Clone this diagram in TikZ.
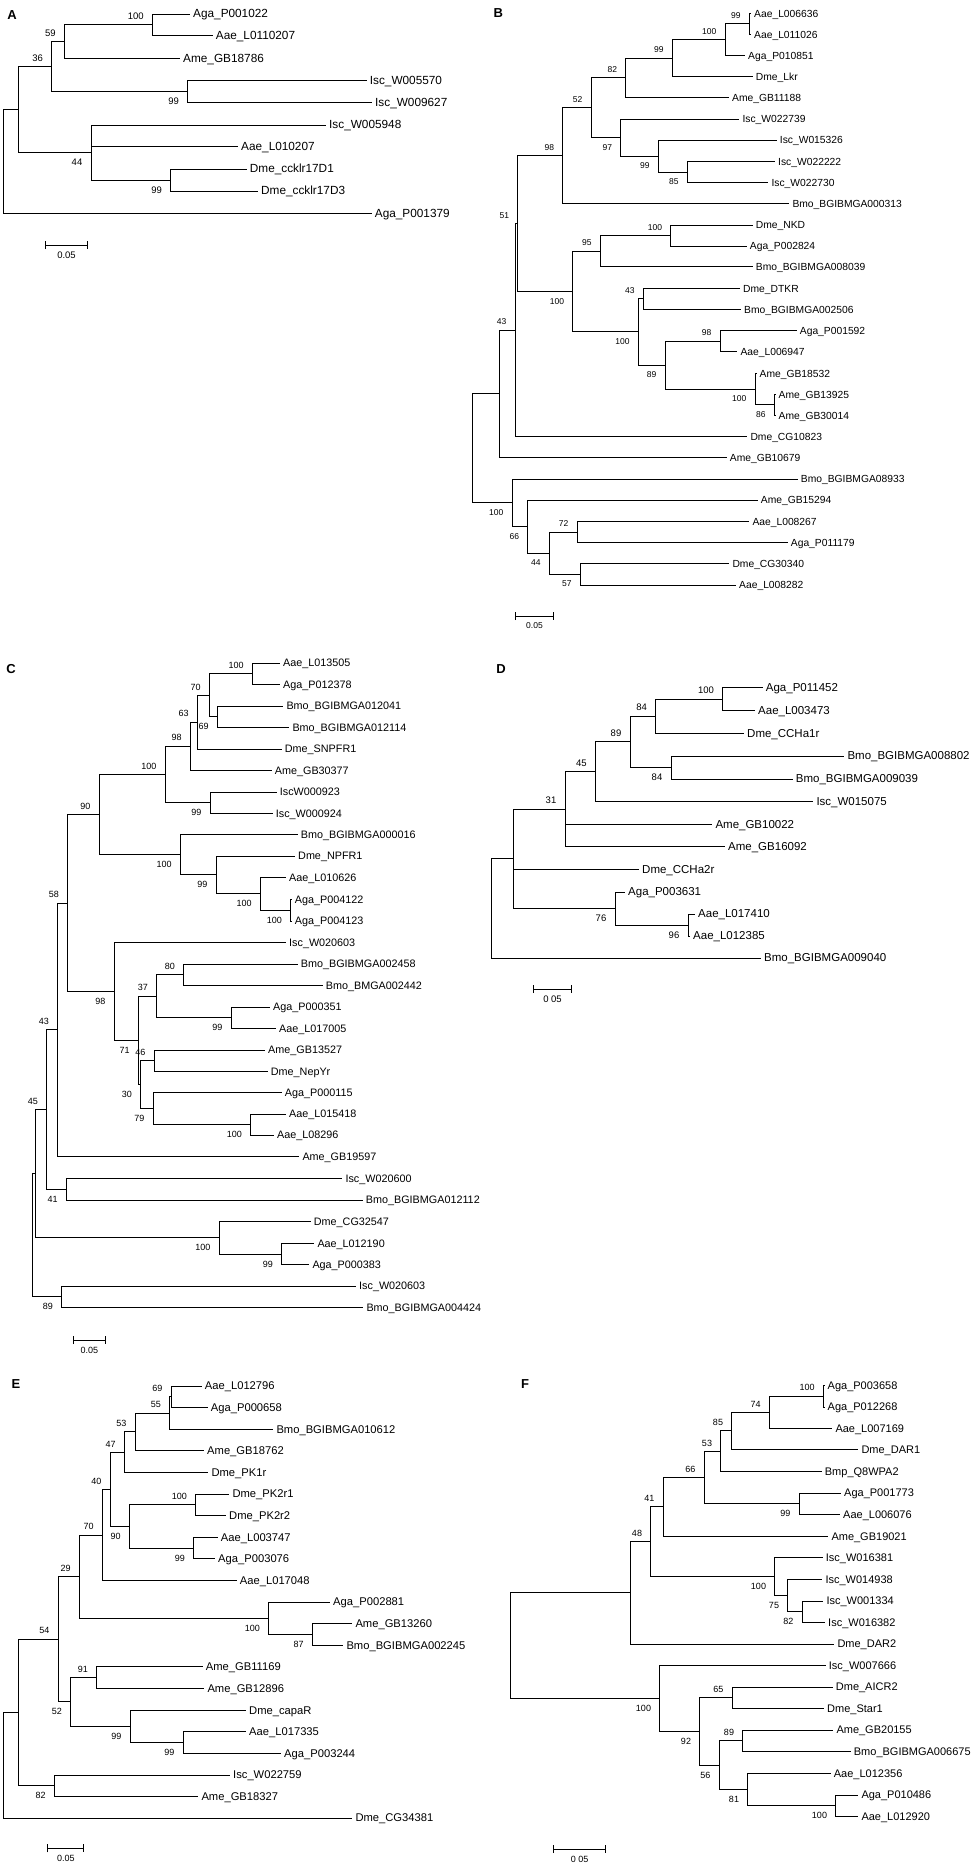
\documentclass[tikz,border=0pt]{standalone}
\usepackage{fontspec}
\setmainfont{Liberation Sans}
\usetikzlibrary{arrows.meta}
\tikzset{
  br/.style={line width=1pt},
  lf/.style={font=\fontsize{11}{13}\selectfont},
  bf/.style={font=\fontsize{9}{11}\selectfont},
  leaf/.style={lf, anchor=west, inner xsep=3pt, inner ysep=0pt, text height=7.6pt, text depth=0pt},
  bsup/.style={bf, anchor=south east, inner sep=0pt, xshift=-8.5pt, yshift=5pt},
  bsdn/.style={bf, anchor=north east, inner sep=0pt, xshift=-8.5pt, yshift=-6.5pt},
  tag/.style={font=\fontsize{13}{15}\selectfont\bfseries, inner sep=0pt},
  sbar/.style={line width=1pt, {Bar[width=8pt]}-{Bar[width=8pt]}},
  sblab/.style={bf, anchor=north, inner sep=0pt, yshift=-6.5pt}
}
\begin{document}
\begin{tikzpicture}[x=1pt,y=-1pt]
  \useasboundingbox (0,0) rectangle (974,1863);
  \fill[white] (0,0) rectangle (974,1863);

  \begin{scope}[lf/.style={font=\fontsize{11.8}{13}\selectfont}, bf/.style={font=\fontsize{9.5}{11}\selectfont}]
    \node[tag] (tagA) at (12,15) {A};
    \foreach \n/\x/\y/\lbl in {aL1/190/14/Aga\_P001022, aL2/212.7/35.7/Aae\_L0110207, aL3/180/58.3/Ame\_GB18786,
      aL4/366.7/80.7/Isc\_W005570, aL5/372/102.3/Isc\_W009627, aL6/326/125/Isc\_W005948, aL7/238/146.7/Aae\_L010207,
      aL8/246.7/169/Dme\_ccklr17D1, aL9/258/191/Dme\_ccklr17D3, aL10/371.7/213.3/Aga\_P001379}
    {
      \node[leaf] (\n) at (\x,\y) {\lbl};
    }
    \foreach \n/\x/\y in {aR/3.3/161.4, aI/18.3/109.5, a36/51.7/66.55, a59/64.3/41.6, a100/152.3/24.85,
      a99a/187.7/91.5, a44/91/152.5, a99b/170.7/180}
    {
      \coordinate (\n) at (\x,\y);
    }
    \foreach \p/\c in {aR/aI, aR/aL10.west, aI/a36, aI/a44, a36/a59, a36/a99a, a59/a100, a59/aL3.west,
      a100/aL1.west, a100/aL2.west, a99a/aL4.west, a99a/aL5.west, a44/aL6.west, a44/aL7.west, a44/a99b,
      a99b/aL8.west, a99b/aL9.west}
    {
      \draw[br] (\p) |- (\c);
    }
    \foreach \n/\v in {a100/100, a59/59, a36/36} \node[bsup] (t\n) at (\n) {\v};
    \foreach \n/\v in {a99a/99, a44/44, a99b/99} \node[bsdn] (t\n) at (\n) {\v};
    \coordinate (aS1) at (45,245);
    \coordinate (aS2) at (88,245);
    \draw[sbar] (aS1) -- node[sblab] (aSt) {0.05} (aS2);
  \end{scope}

  \begin{scope}[lf/.style={font=\fontsize{10.3}{12}\selectfont}, bf/.style={font=\fontsize{8.5}{10}\selectfont}]
    \node[tag] (tagB) at (498.3,13.3) {B};
    \foreach \n/\x/\y/\lbl in {bL1/751/13.3/Aae\_L006636, bL2/751/34.3/Aae\_L011026, bL3/745/55.7/Aga\_P010851,
      bL4/752.7/76.7/Dme\_Lkr, bL5/729/97.7/Ame\_GB11188, bL6/739.3/119/Isc\_W022739, bL7/776.7/140/Isc\_W015326,
      bL8/775/161.7/Isc\_W022222, bL9/768.3/182.7/Isc\_W022730, bL10/789.3/203.3/Bmo\_BGIBMGA000313,
      bL11/752.7/225/Dme\_NKD, bL12/746.7/246/Aga\_P002824, bL13/752.7/266.7/Bmo\_BGIBMGA008039,
      bL14/740/288.3/Dme\_DTKR, bL15/741/309.3/Bmo\_BGIBMGA002506, bL16/796.7/330.7/Aga\_P001592,
      bL17/737.3/351.7/Aae\_L006947, bL18/756.5/373.3/Ame\_GB18532, bL19/775.5/394.3/Ame\_GB13925,
      bL20/775.5/415.3/Ame\_GB30014, bL21/747.3/436.7/Dme\_CG10823, bL22/726.7/457.7/Ame\_GB10679,
      bL23/797.7/479/Bmo\_BGIBMGA08933, bL24/757.7/500/Ame\_GB15294, bL25/749.3/521.7/Aae\_L008267,
      bL26/787.7/542.3/Aga\_P011179, bL27/729.3/563.3/Dme\_CG30340, bL28/736/585/Aae\_L008282}
    {
      \node[leaf] (\n) at (\x,\y) {\lbl};
    }
    \foreach \n/\x/\y in {b99a/749.3/23.8, b100a/725/39.75, b99b/672.3/58.2, b82/625.7/77.95, b85/687.3/172.2,
      b99c/658.3/156.1, b97/620.7/137.55, b52/591/107.75, b98/562.7/155.5, b100b/670.7/235.5, b95/600.3/251.1,
      b43a/643.3/298.8, b98b/720/341.2, b86/774.3/404.8, b100c/755/389.05, b89/665/365.1, b100d/638.3/331.95,
      b100e/572.7/291.5, b51/517.7/223.5, b43b/515/330.1, bX/499/393.9, b72/577/532, b57/580.3/574.15,
      b44/549.3/553.1, b66/527.7/526.55, b100f/512/502.8, bR/472.7/448.35}
    {
      \coordinate (\n) at (\x,\y);
    }
    \foreach \p/\c in {bR/bX, bR/b100f, bX/b43b, bX/bL22.west, b43b/b51, b43b/bL21.west, b51/b98, b51/b100e,
      b98/b52, b98/bL10.west, b52/b82, b52/b97, b82/b99b, b82/bL5.west, b99b/b100a, b99b/bL4.west,
      b100a/b99a, b100a/bL3.west, b99a/bL1.west, b99a/bL2.west, b97/bL6.west, b97/b99c, b99c/bL7.west,
      b99c/b85, b85/bL8.west, b85/bL9.west, b100e/b95, b100e/b100d, b95/b100b, b95/bL13.west,
      b100b/bL11.west, b100b/bL12.west, b100d/b43a, b100d/b89, b43a/bL14.west, b43a/bL15.west,
      b89/b98b, b89/b100c, b98b/bL16.west, b98b/bL17.west, b100c/bL18.west, b100c/b86, b86/bL19.west,
      b86/bL20.west, b100f/bL23.west, b100f/b66, b66/bL24.west, b66/b44, b44/b72, b44/b57,
      b72/bL25.west, b72/bL26.west, b57/bL27.west, b57/bL28.west}
    {
      \draw[br] (\p) |- (\c);
    }
    \foreach \n/\v in {b99a/99, b100a/100, b99b/99, b82/82, b52/52, b98/98, b51/51, b100b/100, b95/95,
      b43a/43, b98b/98, b43b/43, b72/72} \node[bsup] (t\n) at (\n) {\v};
    \foreach \n/\v in {b97/97, b99c/99, b85/85, b100e/100, b100d/100, b89/89, b100c/100, b86/86,
      b100f/100, b66/66, b44/44, b57/57} \node[bsdn] (t\n) at (\n) {\v};
    \coordinate (bS1) at (515,616);
    \coordinate (bS2) at (554,616);
    \draw[sbar] (bS1) -- node[sblab] (bSt) {0.05} (bS2);
  \end{scope}

  \begin{scope}[lf/.style={font=\fontsize{10.8}{12}\selectfont}]
    \node[tag] (tagC) at (11,669.3) {C};
    \foreach \n/\x/\y/\lbl in {cL1/280/663/Aae\_L013505, cL2/280/684.7/Aga\_P012378, cL3/283.3/706/Bmo\_BGIBMGA012041,
      cL4/289.3/727.7/Bmo\_BGIBMGA012114, cL5/281.7/749/Dme\_SNPFR1, cL6/271.7/770.3/Ame\_GB30377,
      cL7/276.7/792/IscW000923, cL8/272.7/813.3/Isc\_W000924, cL9/297.7/834.7/Bmo\_BGIBMGA000016,
      cL10/295/856/Dme\_NPFR1, cL11/286/877.7/Aae\_L010626, cL12/291.7/899.3/Aga\_P004122,
      cL13/291.7/921/Aga\_P004123, cL14/286/942.3/Isc\_W020603, cL15/297.7/964/Bmo\_BGIBMGA002458,
      cL16/322.7/985.3/Bmo\_BMGA002442, cL17/270/1007/Aga\_P000351, cL18/276/1028.3/Aae\_L017005,
      cL19/265/1050/Ame\_GB13527, cL20/267.7/1071.3/Dme\_NepYr, cL21/281.7/1092.7/Aga\_P000115,
      cL22/286/1114/Aae\_L015418, cL23/274/1135/Aae\_L08296, cL24/299.3/1156.7/Ame\_GB19597,
      cL25/342.3/1178.3/Isc\_W020600, cL26/362.7/1200/Bmo\_BGIBMGA012112, cL27/310.7/1221.7/Dme\_CG32547,
      cL28/314.3/1243.3/Aae\_L012190, cL29/309.3/1264.7/Aga\_P000383, cL30/356/1286/Isc\_W020603,
      cL31/363.3/1307.3/Bmo\_BGIBMGA004424}
    {
      \node[leaf] (\n) at (\x,\y) {\lbl};
    }
    \foreach \n/\x/\y in {c100a/252.3/673.85, c69/217.3/716.85, c70/209.3/695.35, c63/197.3/722.2,
      c98/190.3/746.25, c99a/210/802.65, c100b/165/774.45, c100d/290.7/910.15, c100c/260.3/893.9,
      c99b/216/874.95, c100e/180.3/854.8, c90/99/814.6, c80/183.7/974.65, c99c/231/1017.65,
      c37/156.7/996.15, c46/154/1060.65, c100f/250.7/1124.5, c79/153/1108.6, c30/140.7/1084.6,
      c71/138.3/1040.4, c98b/114/991.35, c58/67.7/903, c43/57.7/1029.85, c41/66.3/1189.15,
      c45/46.7/1109.5, c99d/281.7/1254, c100g/219/1237.85, cY/35.7/1173.7, c89/61.7/1296.65, cR/32.3/1235.2}
    {
      \coordinate (\n) at (\x,\y);
    }
    \foreach \p/\c in {cR/cY, cR/c89, cY/c45, cY/c100g, c45/c43, c45/c41, c43/c58, c43/cL24.west,
      c58/c90, c58/c98b, c90/c100b, c90/c100e, c100b/c98, c100b/c99a, c98/c63, c98/cL6.west,
      c63/c70, c63/cL5.west, c70/c100a, c70/c69, c100a/cL1.west, c100a/cL2.west, c69/cL3.west,
      c69/cL4.west, c99a/cL7.west, c99a/cL8.west, c100e/cL9.west, c100e/c99b, c99b/cL10.west,
      c99b/c100c, c100c/cL11.west, c100c/c100d, c100d/cL12.west, c100d/cL13.west, c98b/cL14.west,
      c98b/c71, c71/c37, c71/c30, c37/c80, c37/c99c, c80/cL15.west, c80/cL16.west, c99c/cL17.west,
      c99c/cL18.west, c30/c46, c30/c79, c46/cL19.west, c46/cL20.west, c79/cL21.west, c79/c100f,
      c100f/cL22.west, c100f/cL23.west, c41/cL25.west, c41/cL26.west, c100g/cL27.west, c100g/c99d,
      c99d/cL28.west, c99d/cL29.west, c89/cL30.west, c89/cL31.west}
    {
      \draw[br] (\p) |- (\c);
    }
    \foreach \n/\v in {c100a/100, c70/70, c63/63, c98/98, c100b/100, c90/90, c58/58, c80/80, c37/37,
      c46/46, c43/43, c45/45} \node[bsup] (t\n) at (\n) {\v};
    \foreach \n/\v in {c69/69, c99a/99, c100e/100, c99b/99, c100c/100, c100d/100, c99c/99, c98b/98,
      c71/71, c30/30, c79/79, c100f/100, c41/41, c100g/100, c99d/99, c89/89} \node[bsdn] (t\n) at (\n) {\v};
    \coordinate (cS1) at (72.7,1340);
    \coordinate (cS2) at (106,1340);
    \draw[sbar] (cS1) -- node[sblab] (cSt) {0.05} (cS2);
  \end{scope}

  \begin{scope}[lf/.style={font=\fontsize{11.5}{13}\selectfont}, bf/.style={font=\fontsize{9.5}{11}\selectfont}]
    \node[tag] (tagD) at (501,669.3) {D};
    \foreach \n/\x/\y/\lbl in {dL1/762.7/687.7/Aga\_P011452, dL2/755/710.3/Aae\_L003473, dL3/744/733.3/Dme\_CCHa1r,
      dL4/844.3/756/Bmo\_BGIBMGA008802, dL5/792.7/779/Bmo\_BGIBMGA009039, dL6/813.3/801.3/Isc\_W015075,
      dL7/712.3/824.3/Ame\_GB10022, dL8/725/846.7/Ame\_GB16092, dL9/639/869.7/Dme\_CCHa2r,
      dL10/625/892/Aga\_P003631, dL11/695/914/Aae\_L017410, dL12/690/936/Aae\_L012385,
      dL13/761/958/Bmo\_BGIBMGA009040}
    {
      \node[leaf] (\n) at (\x,\y) {\lbl};
    }
    \foreach \n/\x/\y in {d100/722.7/699, d84a/655.7/716.15, d84b/671/767.5, d89/630/741.8, d45/595.3/771.55,
      d31/565/809.1, d96/688/925, d76/615/908.5, dZ/513.3/858.8, dR/491/908}
    {
      \coordinate (\n) at (\x,\y);
    }
    \foreach \p/\c in {dR/dZ, dR/dL13.west, dZ/d31, dZ/dL9.west, dZ/d76, d31/d45, d31/dL7.west, d31/dL8.west,
      d45/d89, d45/dL6.west, d89/d84a, d89/d84b, d84a/d100, d84a/dL3.west, d100/dL1.west, d100/dL2.west,
      d84b/dL4.west, d84b/dL5.west, d76/dL10.west, d76/d96, d96/dL11.west, d96/dL12.west}
    {
      \draw[br] (\p) |- (\c);
    }
    \foreach \n/\v in {d100/100, d84a/84, d89/89, d45/45, d31/31} \node[bsup] (t\n) at (\n) {\v};
    \foreach \n/\v in {d84b/84, d76/76, d96/96} \node[bsdn] (t\n) at (\n) {\v};
    \coordinate (dS1) at (533,989);
    \coordinate (dS2) at (572,989);
    \draw[sbar] (dS1) -- node[sblab] (dSt) {0 05} (dS2);
  \end{scope}

  \begin{scope}[lf/.style={font=\fontsize{11.2}{13}\selectfont}]
    \node[tag] (tagE) at (16,1384) {E};
    \foreach \n/\x/\y/\lbl in {eL1/201.7/1386/Aae\_L012796, eL2/207.7/1407.7/Aga\_P000658,
      eL3/273.3/1429.3/Bmo\_BGIBMGA010612, eL4/204/1450.7/Ame\_GB18762, eL5/208.3/1472.7/Dme\_PK1r,
      eL6/229.3/1494/Dme\_PK2r1, eL7/226/1515.3/Dme\_PK2r2, eL8/217.7/1537.3/Aae\_L003747,
      eL9/215/1558.7/Aga\_P003076, eL10/236.7/1580.7/Aae\_L017048, eL11/330/1602/Aga\_P002881,
      eL12/352.3/1623.7/Ame\_GB13260, eL13/343.3/1645.3/Bmo\_BGIBMGA002245, eL14/202.7/1666.7/Ame\_GB11169,
      eL15/204.3/1688.3/Ame\_GB12896, eL16/246/1710.3/Dme\_capaR, eL17/246/1731.3/Aae\_L017335,
      eL18/281/1753.3/Aga\_P003244, eL19/230/1775/Isc\_W022759, eL20/198.3/1796.3/Ame\_GB18327,
      eL21/352.3/1818/Dme\_CG34381}
    {
      \node[leaf] (\n) at (\x,\y) {\lbl};
    }
    \foreach \n/\x/\y in {e69/171/1396.85, e55/169.7/1413.1, e53/135/1431.9, e47/124.3/1452.3,
      e100a/195.7/1504.65, e99a/193.7/1548, e90/129.3/1526.3, e40/110/1489.3, e70/102.3/1535,
      e87/312.3/1634.5, e100b/268.7/1618.25, e29/79.3/1576.6, e91/96.7/1677.5, e99b/183/1742.3,
      e99c/130/1726.3, e52/70.7/1701.9, e54/58/1639.25, e82/54.3/1785.65, eY/18.3/1712.45, eR/3.3/1765.2}
    {
      \coordinate (\n) at (\x,\y);
    }
    \foreach \p/\c in {eR/eY, eR/eL21.west, eY/e54, eY/e82, e54/e29, e54/e52, e29/e70, e29/e100b,
      e70/e40, e70/eL10.west, e40/e47, e40/e90, e47/e53, e47/eL5.west, e53/e55, e53/eL4.west,
      e55/e69, e55/eL3.west, e69/eL1.west, e69/eL2.west, e90/e100a, e90/e99a, e100a/eL6.west,
      e100a/eL7.west, e99a/eL8.west, e99a/eL9.west, e100b/eL11.west, e100b/e87, e87/eL12.west,
      e87/eL13.west, e52/e91, e52/e99c, e91/eL14.west, e91/eL15.west, e99c/eL16.west, e99c/e99b,
      e99b/eL17.west, e99b/eL18.west, e82/eL19.west, e82/eL20.west}
    {
      \draw[br] (\p) |- (\c);
    }
    \foreach \n/\v in {e69/69, e55/55, e53/53, e47/47, e40/40, e100a/100, e70/70, e29/29, e54/54,
      e91/91} \node[bsup] (t\n) at (\n) {\v};
    \foreach \n/\v in {e90/90, e99a/99, e100b/100, e87/87, e52/52, e99c/99, e99b/99, e82/82}
      \node[bsdn] (t\n) at (\n) {\v};
    \coordinate (eS1) at (47.3,1848.3);
    \coordinate (eS2) at (84.3,1848.3);
    \draw[sbar] (eS1) -- node[sblab] (eSt) {0.05} (eS2);
  \end{scope}

  \begin{scope}[lf/.style={font=\fontsize{11}{13}\selectfont}]
    \node[tag] (tagF) at (525,1384) {F};
    \foreach \n/\x/\y/\lbl in {fL1/824.5/1385.3/Aga\_P003658, fL2/824.5/1407/Aga\_P012268,
      fL3/832.3/1428.3/Aae\_L007169, fL4/858.3/1449.7/Dme\_DAR1, fL5/821.7/1471.7/Bmp\_Q8WPA2,
      fL6/841/1493/Aga\_P001773, fL7/840/1514.3/Aae\_L006076, fL8/828.3/1536.3/Ame\_GB19021,
      fL9/822.7/1557.7/Isc\_W016381, fL10/822.3/1579.3/Isc\_W014938, fL11/823.3/1601/Isc\_W001334,
      fL12/825/1622.3/Isc\_W016382, fL13/834.3/1644/Dme\_DAR2, fL14/825.7/1665.3/Isc\_W007666,
      fL15/832.7/1687/Dme\_AICR2, fL16/824/1708.7/Dme\_Star1, fL17/833.3/1730/Ame\_GB20155,
      fL18/850.7/1751.7/Bmo\_BGIBMGA006675, fL19/830.7/1773.3/Aae\_L012356, fL20/858.3/1795/Aga\_P010486,
      fL21/858.3/1816.7/Aae\_L012920}
    {
      \node[leaf] (\n) at (\x,\y) {\lbl};
    }
    \foreach \n/\x/\y in {f100a/823.3/1396.15, f74/769.3/1412.2, f85/731.7/1430.95, f53/720.7/1451.3,
      f99/799/1503.65, f66/704/1477.5, f41/663/1506.9, f82/802/1611.65, f75/787.7/1595.5,
      f100b/774.7/1576.6, f48/650.7/1541.75, fZ/630.7/1592.9, f65/732/1697.85, f89/742.7/1740.85,
      f100c/835.7/1805.85, f81/747.7/1789.6, f56/719/1765.2, f92/699.7/1731.5, f100d/659.7/1698.4,
      fR/510.3/1645.65}
    {
      \coordinate (\n) at (\x,\y);
    }
    \foreach \p/\c in {fR/fZ, fR/f100d, fZ/f48, fZ/fL13.west, f48/f41, f48/f100b, f41/f66, f41/fL8.west,
      f66/f53, f66/f99, f53/f85, f53/fL5.west, f85/f74, f85/fL4.west, f74/f100a, f74/fL3.west,
      f100a/fL1.west, f100a/fL2.west, f99/fL6.west, f99/fL7.west, f100b/fL9.west, f100b/f75,
      f75/fL10.west, f75/f82, f82/fL11.west, f82/fL12.west, f100d/fL14.west, f100d/f92, f92/f65,
      f92/f56, f65/fL15.west, f65/fL16.west, f56/f89, f56/f81, f89/fL17.west, f89/fL18.west,
      f81/fL19.west, f81/f100c, f100c/fL20.west, f100c/fL21.west}
    {
      \draw[br] (\p) |- (\c);
    }
    \foreach \n/\v in {f100a/100, f74/74, f85/85, f53/53, f66/66, f41/41, f48/48, f65/65, f89/89}
      \node[bsup] (t\n) at (\n) {\v};
    \foreach \n/\v in {f99/99, f100b/100, f75/75, f82/82, f100d/100, f92/92, f56/56, f81/81, f100c/100}
      \node[bsdn] (t\n) at (\n) {\v};
    \coordinate (fS1) at (553.3,1849);
    \coordinate (fS2) at (606,1849);
    \draw[sbar] (fS1) -- node[sblab] (fSt) {0 05} (fS2);
  \end{scope}
\end{tikzpicture}
\end{document}
